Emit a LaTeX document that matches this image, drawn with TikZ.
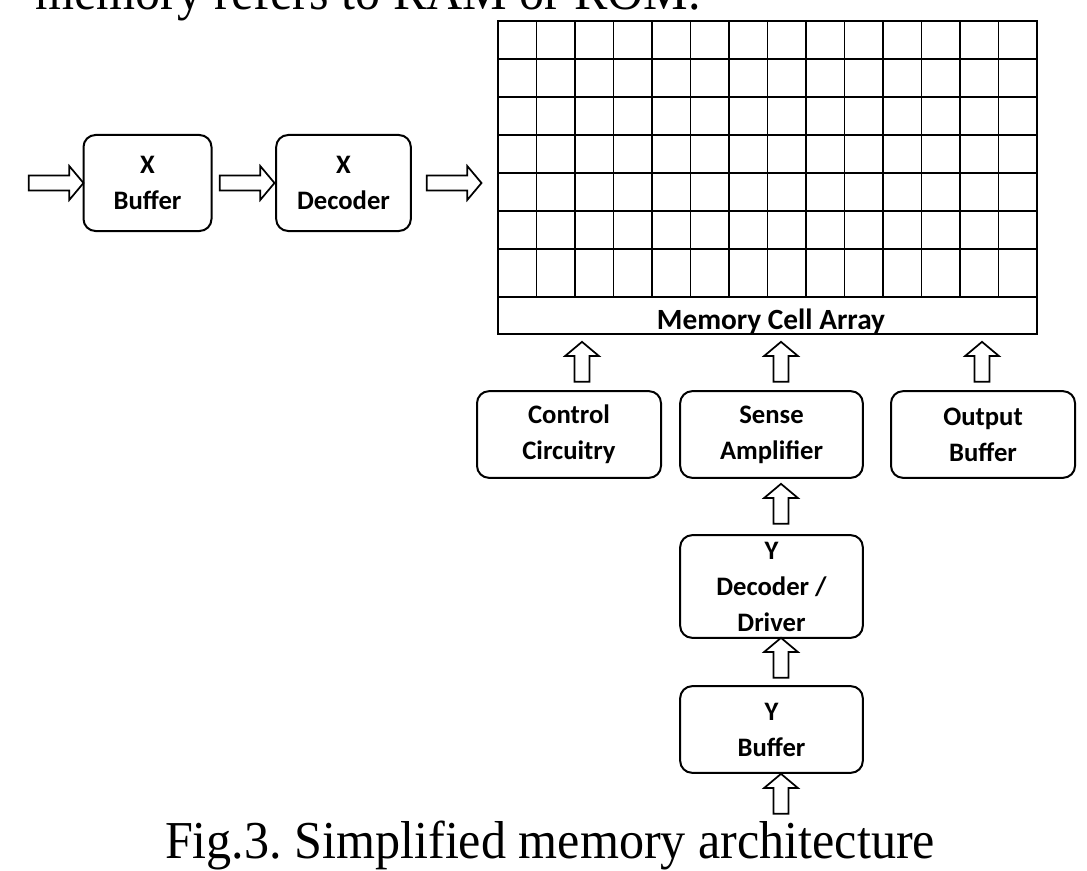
\documentclass[tikz,border=0pt]{standalone}
\usepackage{fontspec}
\setmainfont{Liberation Serif}
\newfontfamily\boxfont{Carlito}
\usetikzlibrary{shapes.arrows}
\begin{document}
\begin{tikzpicture}[x=0.75pt,y=-0.75pt,
  blk/.style={draw,line width=1.5pt,rounded corners=9pt,align=center,font=\boxfont\bfseries\fontsize{20}{27}\selectfont,inner sep=0pt},
  harr/.style={single arrow,draw,line width=1.3pt,minimum height=41pt,single arrow head extend=7pt,inner sep=5pt,single arrow tip angle=100},
  varr/.style={single arrow,draw,line width=1.3pt,minimum height=30pt,single arrow head extend=7pt,inner sep=5pt,rotate=90,single arrow tip angle=100},
  grid/.style={line width=1.4pt}]
\useasboundingbox (0,0) rectangle (1087,870);
\node[font=\fontsize{40}{40}\selectfont,anchor=base west,xscale=0.94,inner sep=0pt] (toptext) at (35,10) {memory refers to RAM or ROM.};
% memory array
\foreach \i in {0,...,14} \draw[grid] ({498+\i*38.5},21) -- ({498+\i*38.5},297);
\foreach \y in {21,59,97,135,173,211,249,297} \draw[grid] (498,\y) -- (1037,\y);
\draw[grid] (498,21) rectangle (1037,334);
\node[font=\boxfont\bfseries\fontsize{22}{24}\selectfont,inner sep=0pt] (mca) at (771,322) {Memory Cell Array};
% boxes
\node[blk,minimum width=96pt,minimum height=72pt] (xb) at (147.5,183) {X\\Buffer};
\node[blk,minimum width=101pt,minimum height=72pt] (xd) at (343.5,183) {X\\Decoder};
\node[blk,minimum width=138pt,minimum height=65pt] (cc) at (569,434.5) {Control\\Circuitry};
\node[blk,minimum width=137pt,minimum height=65pt] (sa) at (771.5,434.5) {Sense\\Amplifier};
\node[blk,minimum width=138pt,minimum height=65pt] (ob) at (983,434.5) {Output\\Buffer};
\node[blk,minimum width=137pt,minimum height=77pt] (yd) at (771.5,586.5) {Y\\Decoder /\\Driver};
\node[blk,minimum width=137pt,minimum height=65pt] (yb) at (771.5,729.5) {Y\\Buffer};
% arrows
\node[harr] (a1) at (53,183) {};
\node[harr] (a2) at (244,183) {};
\node[harr] (a3) at (451,183) {};
\node[varr] (u1) at (582,365) {};
\node[varr] (u2) at (781,365) {};
\node[varr] (u3) at (982,365) {};
\node[varr] (u4) at (781,507) {};
\node[varr] (u5) at (781,661) {};
\node[varr] (u6) at (781,797) {};
\node[font=\fontsize{40}{40}\selectfont,xscale=0.94,inner sep=0pt,anchor=base] (cap) at (550,858) {Fig.3.\ Simplified memory architecture};
\end{tikzpicture}
\end{document}
